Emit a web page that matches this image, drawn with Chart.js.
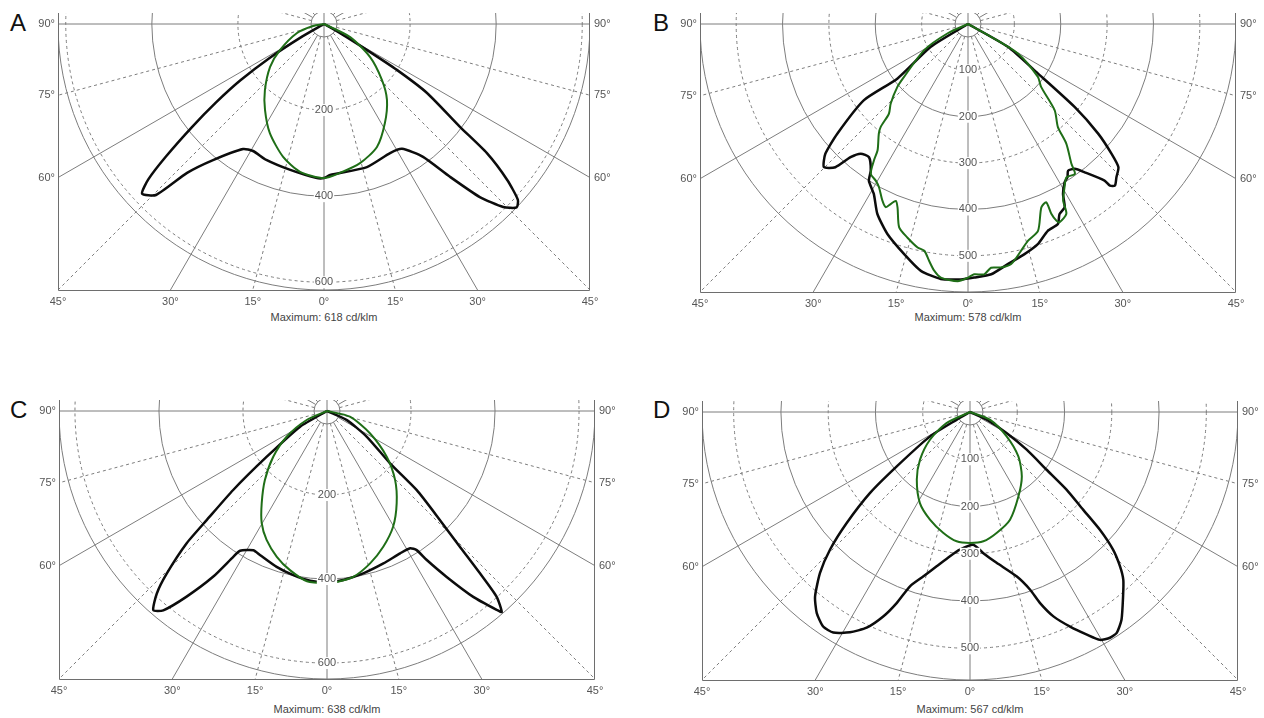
<!DOCTYPE html>
<html>
<head>
<meta charset="utf-8">
<script src="https://cdn.jsdelivr.net/npm/chart.js@4.4.1/dist/chart.umd.min.js"></script>
<style>
body { margin: 0; background: #fff; width: 1264px; height: 718px; position: relative; overflow: hidden; font-family: "Liberation Sans", Arial, sans-serif; }
canvas { position: absolute; }
.letter { position: absolute; font-size: 24px; line-height: 28px; color: #111; }
.maxlbl { position: absolute; font-size: 11px; line-height: 14px; color: #444; transform: translateX(-50%); white-space: nowrap; }
</style>
</head>
<body>
<div class="letter" style="left:10px;top:9px">A</div>
<div class="letter" style="left:653px;top:9px">B</div>
<div class="letter" style="left:10px;top:396px">C</div>
<div class="letter" style="left:653px;top:396px">D</div>
<div class="maxlbl" id="maxA" style="left:324px;top:310px"></div>
<div class="maxlbl" id="maxB" style="left:968px;top:310px"></div>
<div class="maxlbl" id="maxC" style="left:327px;top:702px"></div>
<div class="maxlbl" id="maxD" style="left:970px;top:702px"></div>
<canvas id="cA"></canvas>
<canvas id="cB"></canvas>
<canvas id="cC"></canvas>
<canvas id="cD"></canvas>
<script>
// angles from nadir (negative = left half), intensities in cd/klm
const angBlackA = [-90,-60,-58,-56,-54,-52,-50,-48.5,-47,-44.5,-42.6,-39.2,-32.9,-29.2,-23,-13,-3,0,2.3,16.7,27.1,32,36.7,39.5,42,44.4,46.4,47.8,49.6,51.6,52.9,56.2,57.8,58.8,60.6,90];
const valBlackA = [0,60,150,235,310,390,480,545,578,557,470,408,346,338,343,348,358,358,351,347,337,342,385,460,541,595,618,608,559,483,396,288,200,117,43,0];
const angGreenA = [-90,-79.7,-71.6,-59.4,-51.5,-41.8,-34.5,-26.4,-17.1,-9.2,0,6.1,14.5,23.3,31.6,39.7,46,54.3,63.4,90];
const valGreenA = [0,26,66,119,160,206,242,283,323,348,358,348,334,311,270,229,187,132,68,0];

const angBlackB = [-90,-58.5,-52.3,-53.8,-50,-47.7,-45.2,-42.8,-41.4,-39.6,-36.6,-33.6,-32.3,-29,-25.5,-21,-15.5,-10.8,-6.1,-1.6,1.4,5.3,9.4,13.8,17.6,21.1,24.2,25.7,27.8,29.2,31.4,33,34.3,36.4,38.2,41.1,41.3,42.3,44.1,46.4,47.9,49.9,52.1,54.7,60.2,90];
const valBlackB = [0,94,192,278,368,416,438,421,383,363,358,379,400,419,454,485,515,542,553,551,547,542,525,511,498,478,473,455,447,420,400,394,383,388,407,448,464,471,460,448,417,367,292,185,99,0];
const angGreenB = [-90,-65.4,-59.2,-50.4,-48.3,-44.2,-41.4,-40.3,-39.1,-35.6,-34.6,-33,-30.5,-28.6,-25.9,-24.2,-23.2,-22.2,-21,-18.7,-15.8,-12.7,-10.9,-9.3,-7.8,-6.1,-2.3,0,1.4,3.7,5.4,7.7,10.2,13.2,15.5,18.7,21.8,23.7,23.7,24.2,24.8,27.4,28.3,30.6,32.7,35.5,36.5,39.4,41.1,45.1,49.3,52.9,59.5,61.1,90];
const valGreenB = [0,48,110,179,204,239,258,291,305,335,357,385,392,401,423,433,422,412,424,463,479,494,498,518,537,550,555,547,540,541,528,530,526,502,485,471,426,420,447,465,471,461,433,409,393,397,375,334,295,264,208,189,125,57,0];

const angBlackC = [-90,-59.8,-52.8,-49.9,-47.8,-46.7,-44.6,-43,-41.1,-39.4,-37.1,-34.5,-32.7,-31.9,-27.9,-25,-17.9,-11.6,-5.7,0,5.5,12.6,20.3,27.2,31.2,32.8,33.8,35.8,38.2,40.5,41,42.4,43.3,44.4,46,48.6,50.3,57.1,65.4,90];
const valBlackC = [0,74,180,292,386,459,543,594,629,614,554,479,412,392,375,378,390,399,406,407,404,396,387,381,382,394,427,487,563,623,634,599,531,452,374,285,195,113,52,0];
const angGreenC = [-90,-66.1,-57.5,-49.6,-42,-35.3,-30.2,-25.1,-19,-13.1,-6.7,0,3.3,9,15.8,22.5,29.8,37.1,44.6,52.6,62.6,76.1,90];
const valGreenC = [0,53,114,168,221,269,309,339,367,389,408,410,408,400,377,350,317,275,231,179,115,56,0];

const angBlackD = [-90,-59.9,-58.6,-53.4,-51,-48,-45.5,-43,-40,-37.3,-34.4,-31.8,-28.6,-25.6,-23,-21,-19,-15.9,-12.2,-7.9,-4.2,1.4,5.4,10,15.9,18.7,20.1,22.2,25,27.7,29.7,31.8,33.6,36.1,39.7,42.4,44.2,46.1,47.8,49.2,51.2,53,56.4,60.2,65.2,90];
const valBlackD = [0,33,99,193,272,351,415,465,510,535,550,549,531,506,470,433,390,362,334,308,292,281,300,324,362,397,430,467,501,532,555,562,561,544,507,481,455,420,371,316,262,203,144,89,39,0];
const angGreenD = [-90,-64.7,-55.3,-46.4,-38.2,-28.8,-20.4,-12.4,-5.9,0,5.9,12.4,20.4,29.8,38.8,47.4,56.4,69,90];
const valGreenD = [0,55,103,146,182,220,243,262,275,277,275,262,243,206,175,139,93,45,0];

const maxima = [618, 578, 638, 567];
const ringSteps = [200, 100, 200, 100];
const sideTicks = [90, 75, 60];
const bottomTicks = [45, 30, 15, 0];

// polar grid, frame and labels drawn through the chart scales
const polarGrid = {
    id: 'polarGrid',
    beforeDatasetsDraw(chart, args, opts) {
        const { ctx, chartArea: a, scales: { x, y } } = chart;
        const cx = x.getPixelForValue(0), cy = y.getPixelForValue(0);
        const ppu = x.getPixelForValue(1) - cx;
        ctx.save();
        ctx.beginPath();
        ctx.rect(a.left, a.top, a.right - a.left, a.bottom - a.top);
        ctx.clip();
        ctx.strokeStyle = '#7d7d7d';
        ctx.lineWidth = 1;
        let k = 1;
        for (let v = opts.step; v <= opts.max; v += opts.step, k++) {
            ctx.setLineDash(k % 2 ? [3, 3] : []);
            ctx.beginPath();
            ctx.arc(cx, cy, v * ppu, 0, Math.PI * 2);
            ctx.stroke();
        }
        ctx.setLineDash([]);
        ctx.beginPath();
        ctx.arc(cx, cy, opts.max * ppu, 0, Math.PI * 2);
        ctx.stroke();
        ctx.beginPath();
        ctx.arc(cx, cy, 13, 0, Math.PI * 2);
        ctx.stroke();
        for (let deg = 0; deg < 360; deg += 15) {
            const t = deg * Math.PI / 180;
            const dx = Math.sin(t), dy = Math.cos(t);
            const r0 = deg % 90 ? 13 : 0;
            ctx.setLineDash(deg % 30 ? [3, 3] : []);
            ctx.beginPath();
            ctx.moveTo(cx + dx * r0, cy + dy * r0);
            ctx.lineTo(cx + dx * 1000, cy + dy * 1000);
            ctx.stroke();
        }
        ctx.restore();
        ctx.save();
        ctx.strokeStyle = '#6e6e6e';
        ctx.lineWidth = 1;
        ctx.beginPath();
        ctx.moveTo(a.left + 0.5, a.top);
        ctx.lineTo(a.left + 0.5, a.bottom + 0.5);
        ctx.lineTo(a.right - 0.5, a.bottom + 0.5);
        ctx.lineTo(a.right - 0.5, a.top);
        ctx.stroke();
        ctx.restore();
    },
    afterDatasetsDraw(chart, args, opts) {
        const { ctx, chartArea: a, scales: { x, y } } = chart;
        const cx = x.getPixelForValue(0), cy = y.getPixelForValue(0);
        const ppu = x.getPixelForValue(1) - cx;
        const h = a.bottom - cy;
        ctx.save();
        ctx.font = '11px "Liberation Sans", Arial, sans-serif';
        ctx.textBaseline = 'middle';
        ctx.textAlign = 'center';
        for (let v = opts.step; v <= opts.max; v += opts.step) {
            const s = String(v);
            const w = ctx.measureText(s).width;
            const py = cy + v * ppu;
            ctx.fillStyle = '#fff';
            ctx.fillRect(cx - w / 2 - 1, py - 6, w + 2, 12);
            ctx.fillStyle = '#555';
            ctx.fillText(s, cx, py);
        }
        ctx.fillStyle = '#555';
        sideTicks.forEach(d => {
            const py = d === 90 ? cy : cy + h / Math.tan(d * Math.PI / 180);
            ctx.textAlign = 'right';
            ctx.fillText(d + '°', a.left - 3, py);
            ctx.textAlign = 'left';
            ctx.fillText(d + '°', a.right + 4, py);
        });
        ctx.textAlign = 'center';
        bottomTicks.forEach(d => {
            const off = h * Math.tan(d * Math.PI / 180);
            ctx.fillText(d + '°', cx - off, a.bottom + 12);
            if (d) ctx.fillText(d + '°', cx + off, a.bottom + 12);
        });
        ctx.restore();
    }
};

function toXY(angs, vals) {
    return angs.map((d, i) => {
        const t = d * Math.PI / 180;
        return { x: vals[i] * Math.sin(t), y: -vals[i] * Math.cos(t) };
    });
}

// page geometry of each panel: centre of the diagram, half width of the frame, canvas box
const panels = [
    { id: 'cA', cx: 324, cy: 24, h: 266, ox: 0, oy: 0, w: 632, hh: 314 },
    { id: 'cB', cx: 968, cy: 24, h: 268, ox: 632, oy: 0, w: 632, hh: 314 },
    { id: 'cC', cx: 327, cy: 411, h: 268, ox: 0, oy: 385, w: 632, hh: 318 },
    { id: 'cD', cx: 970, cy: 412, h: 268, ox: 632, oy: 385, w: 632, hh: 318 }
];
const series = [
    [angBlackA, valBlackA, angGreenA, valGreenA],
    [angBlackB, valBlackB, angGreenB, valGreenB],
    [angBlackC, valBlackC, angGreenC, valGreenC],
    [angBlackD, valBlackD, angGreenD, valGreenD]
];
const topExtra = 11;

panels.forEach((p, i) => {
    const cv = document.getElementById(p.id);
    cv.width = p.w;
    cv.height = p.hh;
    cv.style.left = p.ox + 'px';
    cv.style.top = p.oy + 'px';
    const M = maxima[i];
    const s = series[i];
    document.getElementById('max' + 'ABCD'[i]).textContent = 'Maximum:  ' + M + '  cd/klm';
    new Chart(cv, {
        type: 'scatter',
        data: {
            datasets: [{
                data: toXY(s[2], s[3]),
                showLine: true,
                borderColor: '#1f6e17',
                borderWidth: 2,
                pointRadius: 0,
                tension: 0.25
            }, {
                data: toXY(s[0], s[1]),
                showLine: true,
                borderColor: '#0c0c0c',
                borderWidth: 2.5,
                pointRadius: 0,
                tension: 0.2
            }]
        },
        options: {
            responsive: false,
            animation: false,
            devicePixelRatio: 1,
            layout: {
                padding: {
                    left: p.cx - p.h - p.ox,
                    right: p.ox + p.w - (p.cx + p.h),
                    top: p.cy - topExtra - p.oy,
                    bottom: p.oy + p.hh - (p.cy + p.h)
                }
            },
            scales: {
                x: { type: 'linear', display: false, min: -M, max: M },
                y: { type: 'linear', display: false, min: -M, max: M * topExtra / p.h }
            },
            plugins: {
                legend: { display: false },
                tooltip: { enabled: false },
                polarGrid: { max: M, step: ringSteps[i] }
            }
        },
        plugins: [polarGrid]
    });
});
</script>
</body>
</html>
